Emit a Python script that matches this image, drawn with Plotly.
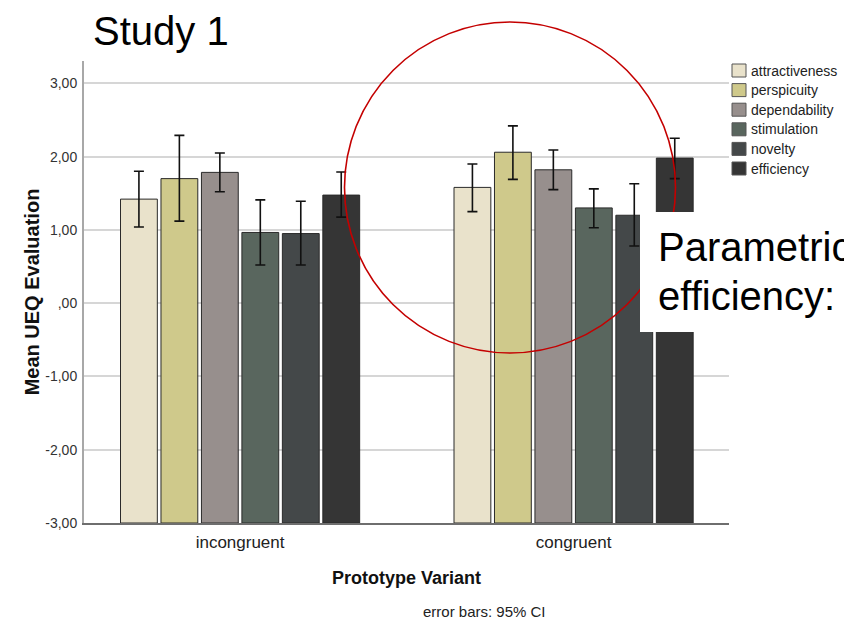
import plotly.graph_objects as go

# ---------------- data ----------------
variants = ["incongruent", "congruent"]
scales = ["attractiveness", "perspicuity", "dependability", "stimulation", "novelty", "efficiency"]
colors = ["#E9E2CB", "#CFC98B", "#978F8D", "#59665E", "#444849", "#353535"]

# means per scale, [incongruent, congruent]
attractiveness = [1.42, 1.58]
perspicuity = [1.70, 2.06]
dependability = [1.785, 1.82]
stimulation = [0.965, 1.30]
novelty = [0.95, 1.20]
efficiency = [1.475, 1.98]

# 95% CI bounds per scale, [incongruent, congruent]
ci_upper_attractiveness = [1.80, 1.90]
ci_lower_attractiveness = [1.04, 1.25]
ci_upper_perspicuity = [2.29, 2.42]
ci_lower_perspicuity = [1.12, 1.69]
ci_upper_dependability = [2.05, 2.09]
ci_lower_dependability = [1.52, 1.55]
ci_upper_stimulation = [1.41, 1.56]
ci_lower_stimulation = [0.52, 1.03]
ci_upper_novelty = [1.39, 1.63]
ci_lower_novelty = [0.52, 0.78]
ci_upper_efficiency = [1.79, 2.25]
ci_lower_efficiency = [1.175, 1.70]

y_tick_values = [-3, -2, -1, 0, 1, 2, 3]
y_tick_labels = ["-3,00", "-2,00", "-1,00", ",00", "1,00", "2,00", "3,00"]
y_axis_floor = -3

means = [attractiveness, perspicuity, dependability, stimulation, novelty, efficiency]
uppers = [ci_upper_attractiveness, ci_upper_perspicuity, ci_upper_dependability,
          ci_upper_stimulation, ci_upper_novelty, ci_upper_efficiency]
lowers = [ci_lower_attractiveness, ci_lower_perspicuity, ci_lower_dependability,
          ci_lower_stimulation, ci_lower_novelty, ci_lower_efficiency]

FONT = "Arial, 'Liberation Sans', sans-serif"

fig = go.Figure()
for name, col, m, up, lo in zip(scales, colors, means, uppers, lowers):
    fig.add_trace(go.Bar(
        name=name,
        x=variants,
        y=[v - y_axis_floor for v in m],
        base=y_axis_floor,
        marker=dict(color=col, line=dict(color="#2a2a2a", width=1)),
        error_y=dict(type="data", symmetric=False,
                     array=[u - v for u, v in zip(up, m)],
                     arrayminus=[v - l for v, l in zip(m, lo)],
                     color="#111111", thickness=1.6, width=5),
        showlegend=False,
        hovertemplate="%{x}<br>" + name + ": %{customdata:.2f}<extra></extra>",
        customdata=m,
    ))

# plot area in px: x 84..729, y 61..523
L, R, T, B = 84, 729, 61, 523
W, H = 844, 624
pw, ph = R - L, B - T


def px(x):
    return (x - L) / pw


def py(y):
    return (B - y) / ph


shapes = []
annotations = []

# red circle
shapes.append(dict(type="circle", xref="paper", yref="paper",
                   x0=px(344.5), x1=px(675.5), y0=py(353), y1=py(22),
                   line=dict(color="#C40000", width=1.6), layer="above"))
# white box
shapes.append(dict(type="rect", xref="paper", yref="paper",
                   x0=px(640), x1=px(900), y0=py(332), y1=py(212),
                   fillcolor="white", line=dict(width=0), layer="above"))

# manual legend
for i, (name, col) in enumerate(zip(scales, colors)):
    cy = 70.5 + 19.6 * i
    shapes.append(dict(type="rect", xref="paper", yref="paper",
                       x0=px(732), x1=px(746), y0=py(cy + 6.5), y1=py(cy - 6.5),
                       fillcolor=col, line=dict(color="#555555", width=1), layer="above"))
    annotations.append(dict(text=name, xref="paper", yref="paper",
                            x=px(749), y=py(cy), xanchor="left", yanchor="middle",
                            showarrow=False, font=dict(family=FONT, size=14, color="#222222")))

annotations += [
    dict(text="Study 1", xref="paper", yref="paper", x=px(91), y=py(31),
         xanchor="left", yanchor="middle", showarrow=False,
         font=dict(family=FONT, size=40, color="#000000")),
    dict(text="Parametric", xref="paper", yref="paper", x=px(656), y=py(247),
         xanchor="left", yanchor="middle", showarrow=False,
         font=dict(family=FONT, size=40, color="#000000")),
    dict(text="efficiency:", xref="paper", yref="paper", x=px(656), y=py(296),
         xanchor="left", yanchor="middle", showarrow=False,
         font=dict(family=FONT, size=40, color="#000000")),
    dict(text="error bars: 95% CI", xref="paper", yref="paper", x=px(484), y=py(611),
         xanchor="center", yanchor="middle", showarrow=False,
         font=dict(family=FONT, size=15, color="#222222")),
]

fig.update_layout(
    width=W, height=H,
    margin=dict(l=L, r=W - R, t=T, b=H - B, pad=0),
    paper_bgcolor="white", plot_bgcolor="white",
    barmode="group", bargap=0.272, bargroupgap=0.09,
    font=dict(family=FONT, color="#222222"),
    shapes=shapes, annotations=annotations,
    showlegend=False,
)
fig.update_xaxes(
    type="category", categoryorder="array", categoryarray=variants,
    range=[-0.468, 1.466], showgrid=False, zeroline=False,
    showline=True, linecolor="#6e6e6e", linewidth=2,
    ticks="", ticklabelstandoff=3,
    tickfont=dict(family=FONT, size=17, color="#222222"),
    title=dict(text="<b>Prototype Variant</b>", standoff=20,
               font=dict(family=FONT, size=18, color="#111111")),
)
fig.update_yaxes(
    range=[y_axis_floor, 3.305], tickmode="array",
    tickvals=y_tick_values, ticktext=y_tick_labels,
    showgrid=True, gridcolor="#D6D6D6", gridwidth=1.5,
    zeroline=False, showline=True, linecolor="#A8A8A8", linewidth=2,
    ticks="", ticklabelstandoff=2,
    tickfont=dict(family=FONT, size=14, color="#333333"),
    title=dict(text="<b>Mean UEQ Evaluation</b>", standoff=0,
               font=dict(family=FONT, size=20, color="#111111")),
)

fig.write_html("out.html")
